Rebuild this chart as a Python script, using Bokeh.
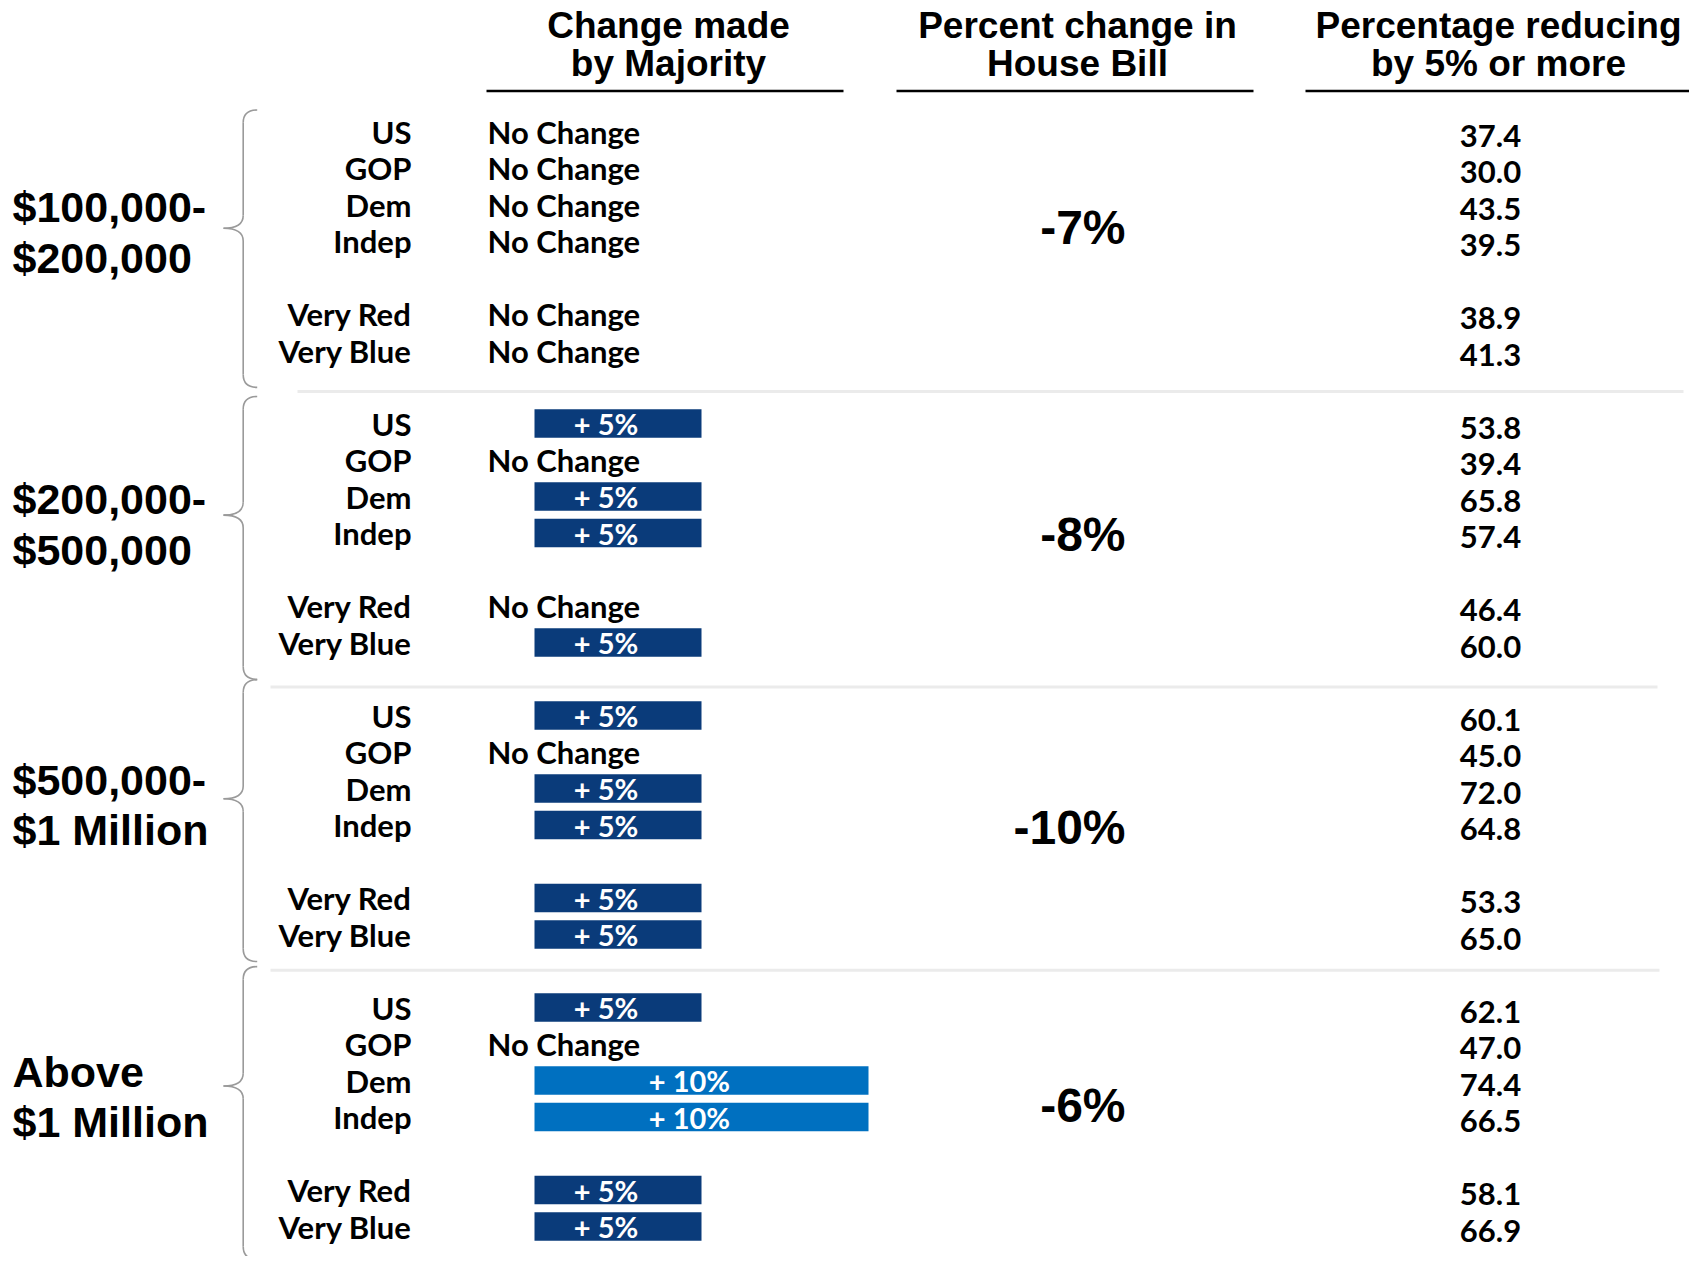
from bokeh.plotting import figure
from bokeh.models import Range1d, ColumnDataSource
from bokeh.core.properties import value
from bokeh.embed import file_html
from bokeh.resources import INLINE

# ---------------- data ----------------
HEADERS = [["Change made", "by Majority"],
           ["Percent change in", "House Bill"],
           ["Percentage reducing", "by 5% or more"]]
GROUP_LINE1 = ["$100,000-", "$200,000-", "$500,000-", "Above"]
GROUP_LINE2 = ["$200,000", "$500,000", "$1 Million", "$1 Million"]
SEGMENTS = ["US", "GOP", "Dem", "Indep", "Very Red", "Very Blue"]
# change made by majority (percentage points; 0 = No Change)
CHANGE = [
    [0, 0, 0, 0, 0, 0],
    [5, 0, 5, 5, 0, 5],
    [5, 0, 5, 5, 5, 5],
    [5, 0, 10, 10, 5, 5],
]
HOUSE_CHANGE = [-7, -8, -10, -6]
REDUCING = [
    [37.4, 30.0, 43.5, 39.5, 38.9, 41.3],
    [53.8, 39.4, 65.8, 57.4, 46.4, 60.0],
    [60.1, 45.0, 72.0, 64.8, 53.3, 65.0],
    [62.1, 47.0, 74.4, 66.5, 58.1, 66.9],
]

# ---------------- layout (row units / px) ----------------
SLOT = [0, 1, 2, 3, 5, 6]          # row slot of each segment inside a group
GROUP_ROWS = 8
BRACE = [(-0.59, 2.65, 7.01), (-0.74, 2.51, 7.01), (-0.98, 2.28, 6.74), (-1.12, 2.15, 6.9)]
SEP = [(7.12, 297, 1683), (7.22, 270, 1657), (6.98, 270, 1659)]
BIG_OFF = [2.63, 3.03, 3.08, 2.68]
W, H = 1689, 1256
ROW_PX = 36.5
ROW0 = 131.0

BAR_DARK = "#0a3b7a"
BAR_LIGHT = "#0070c0"
ROW_FONT = "Lato"
HEAD_FONT = "Liberation Sans"

p = figure(width=W, height=H, x_range=Range1d(0, W),
           y_range=Range1d((H - ROW0) / ROW_PX, -ROW0 / ROW_PX),
           output_backend="svg", toolbar_location=None,
           x_axis_location=None, y_axis_location=None,
           min_border=0, min_border_left=0, min_border_right=0,
           min_border_top=0, min_border_bottom=0)
p.grid.visible = False
p.outline_line_color = None
p.background_fill_color = "white"
p.border_fill_color = "white"
p.extra_x_ranges = {"pct": Range1d(-534 / 33.4, (W - 534) / 33.4)}

# headers
hx = [668, 1077, 1498]
hdr = dict(x=[], y=[], t=[])
for i, (a, b) in enumerate(HEADERS):
    hdr["x"] += [hx[i], hx[i]]
    hdr["y"] += [(24.5 - ROW0) / ROW_PX, (63.0 - ROW0) / ROW_PX]
    hdr["t"] += [a, b]
p.text(x="x", y="y", text="t", source=ColumnDataSource(hdr),
       text_font=value(HEAD_FONT), text_font_style="bold", text_font_size="37px",
       text_align="center", text_baseline="middle", text_color="black")
uy = (90.5 - ROW0) / ROW_PX
p.segment(x0=[486, 896, 1305], x1=[843, 1253, 1689], y0=[uy] * 3, y1=[uy] * 3,
          line_color="black", line_width=2.5)

# rows
lab = dict(x=[], y=[], t=[])
nc = dict(x=[], y=[], t=[])
bars = dict(y=[], r=[], c=[], mid=[], t=[])
vals = dict(x=[], y=[], t=[])
for g in range(len(GROUP_LINE1)):
    base = g * GROUP_ROWS
    for k, seg in enumerate(SEGMENTS):
        row = base + SLOT[k]
        lab["x"].append(411); lab["y"].append(row); lab["t"].append(seg)
        v = CHANGE[g][k]
        if v == 0:
            nc["x"].append(487); nc["y"].append(row); nc["t"].append("No Change")
        else:
            bars["y"].append(row); bars["r"].append(v)
            bars["c"].append(BAR_DARK if v <= 5 else BAR_LIGHT)
            bars["mid"].append(v / 2); bars["t"].append(f"+ {v}%")
        vals["x"].append(1490); vals["y"].append(row + 0.12)
        vals["t"].append(f"{REDUCING[g][k]:.1f}")

row_style = dict(text_font=value(ROW_FONT), text_font_style="bold",
                 text_font_size="31px", text_baseline="middle", text_color="black")
p.text(x="x", y="y", text="t", source=ColumnDataSource(lab), text_align="right", **row_style)
p.text(x="x", y="y", text="t", source=ColumnDataSource(nc), text_align="left", **row_style)
p.text(x="x", y="y", text="t", source=ColumnDataSource(vals), text_align="center", **row_style)

bsrc = ColumnDataSource(bars)
p.hbar(y="y", left=0, right="r", height=0.78, source=bsrc, x_range_name="pct",
       fill_color="c", line_color=None)
p.text(x="mid", y="y", text="t", source=bsrc, x_range_name="pct", x_offset=-12,
       text_font=value(ROW_FONT), text_font_style="bold", text_font_size="29px",
       text_align="center", text_baseline="middle", text_color="white")

# group labels
gl = dict(x=[], y=[], t=[])
for g in range(len(GROUP_LINE1)):
    base = g * GROUP_ROWS
    off1 = 2.08 if g < 2 else 1.76
    gl["x"] += [12, 12]
    gl["y"] += [base + off1, base + off1 + 1.38]
    gl["t"] += [GROUP_LINE1[g], GROUP_LINE2[g]]
p.text(x="x", y="y", text="t", source=ColumnDataSource(gl),
       text_font=value(HEAD_FONT), text_font_style="bold", text_font_size="43px",
       text_align="left", text_baseline="middle", text_color="black")

# big percent change
big = dict(x=[], y=[], t=[])
for g, v in enumerate(HOUSE_CHANGE):
    big["x"].append(1125); big["y"].append(g * GROUP_ROWS + BIG_OFF[g]); big["t"].append(f"{v}%")
p.text(x="x", y="y", text="t", source=ColumnDataSource(big),
       text_font=value(HEAD_FONT), text_font_style="bold", text_font_size="48px",
       text_align="right", text_baseline="middle", text_color="black")

# separators
for g, (off, xa, xb) in enumerate(SEP):
    yy = g * GROUP_ROWS + off
    p.segment(x0=[xa], x1=[xb], y0=[yy], y1=[yy], line_color="#ebebeb", line_width=3)

# braces
xv, xh, xt, r = 242.7, 256.7, 223, 0.35
bc = "#9a9a9a"
for g, (t, m, e) in enumerate(BRACE):
    b = g * GROUP_ROWS
    top, tip, bot = b + t, b + m, b + e
    p.quadratic(x0=[xh, xv, xt, xv], y0=[top, tip - r, tip, bot - r],
                x1=[xv, xt, xv, xh], y1=[top + r, tip, tip + r, bot],
                cx=[xv, xv, xv, xv], cy=[top, tip, tip, bot],
                line_color=bc, line_width=1.6)
    p.segment(x0=[xv, xv], x1=[xv, xv], y0=[top + r, tip + r], y1=[tip - r, bot - r],
              line_color=bc, line_width=1.6)

open("out.html", "w").write(file_html(p, INLINE))
